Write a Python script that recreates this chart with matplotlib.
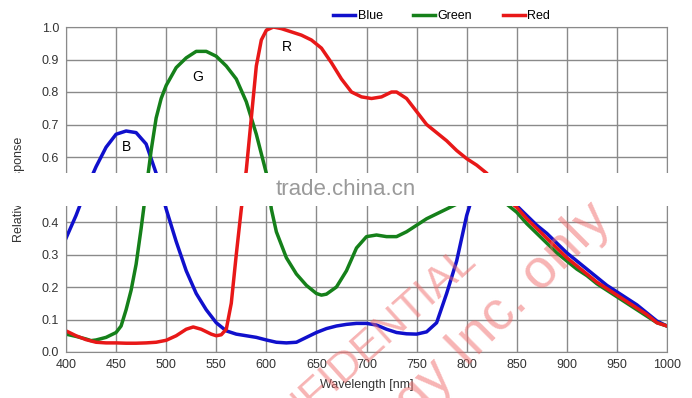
import matplotlib
matplotlib.use("Agg")
import matplotlib.pyplot as plt
from matplotlib.patches import Rectangle

plt.rcParams['font.family'] = ['Liberation Sans', 'DejaVu Sans']

# spectral response
blue_wl = [400, 410, 420, 430, 440, 450, 460, 470, 480, 490, 500, 510, 520, 530,
           540, 550, 560, 570, 580, 590, 600, 610, 620, 630, 640, 650, 660, 670,
           680, 690, 700, 710, 720, 730, 740, 750, 760, 770, 780, 790, 800, 810,
           820, 830, 840, 850, 860, 870, 880, 890, 900, 910, 920, 930, 940, 950,
           960, 970, 980, 990, 1000]
blue_val = [0.35, 0.42, 0.50, 0.57, 0.63, 0.67, 0.68, 0.675, 0.64, 0.55, 0.44, 0.34,
            0.25, 0.18, 0.13, 0.09, 0.065, 0.055, 0.05, 0.045, 0.037, 0.03, 0.028,
            0.03, 0.045, 0.06, 0.072, 0.08, 0.085, 0.088, 0.088, 0.083, 0.07, 0.06,
            0.056, 0.055, 0.062, 0.09, 0.18, 0.28, 0.42, 0.52, 0.53, 0.51, 0.48,
            0.45, 0.42, 0.39, 0.365, 0.335, 0.305, 0.28, 0.255, 0.23, 0.205, 0.185,
            0.165, 0.145, 0.12, 0.095, 0.08]

green_wl = [400, 410, 420, 425, 430, 440, 450, 455, 460, 465, 470, 475, 480, 485,
            490, 495, 500, 510, 520, 530, 540, 550, 560, 570, 580, 590, 600, 605,
            610, 620, 630, 640, 650, 655, 660, 670, 680, 690, 700, 710, 720, 730,
            740, 750, 760, 770, 780, 790, 800, 810, 820, 830, 840, 850, 860, 870,
            880, 890, 900, 910, 920, 930, 940, 950, 960, 970, 980, 990, 1000]
green_val = [0.055, 0.048, 0.04, 0.035, 0.037, 0.045, 0.06, 0.08, 0.13, 0.19, 0.27,
             0.38, 0.50, 0.62, 0.72, 0.78, 0.82, 0.875, 0.905, 0.925, 0.925, 0.91,
             0.88, 0.84, 0.77, 0.67, 0.55, 0.44, 0.37, 0.29, 0.24, 0.205, 0.18,
             0.175, 0.178, 0.2, 0.25, 0.32, 0.355, 0.36, 0.355, 0.355, 0.37, 0.39,
             0.41, 0.425, 0.44, 0.455, 0.46, 0.47, 0.47, 0.465, 0.455, 0.43, 0.395,
             0.365, 0.335, 0.305, 0.28, 0.255, 0.235, 0.21, 0.19, 0.17, 0.15, 0.13,
             0.11, 0.09, 0.08]

red_wl = [400, 410, 420, 430, 440, 450, 460, 470, 480, 490, 500, 510, 520, 527,
          535, 545, 550, 555, 560, 565, 570, 575, 580, 585, 590, 595, 600, 607,
          615, 625, 635, 645, 655, 665, 675, 685, 695, 705, 715, 725, 730, 740,
          750, 760, 770, 780, 790, 800, 810, 820, 830, 840, 850, 860, 870, 880,
          890, 900, 910, 920, 930, 940, 950, 960, 970, 980, 990, 1000]
red_val = [0.065, 0.05, 0.038, 0.03, 0.028, 0.028, 0.027, 0.027, 0.028, 0.03, 0.036,
           0.05, 0.07, 0.077, 0.07, 0.055, 0.05, 0.053, 0.07, 0.15, 0.30, 0.44,
           0.56, 0.72, 0.88, 0.96, 0.99, 1.0, 0.995, 0.985, 0.975, 0.96, 0.935,
           0.89, 0.84, 0.80, 0.785, 0.78, 0.785, 0.80, 0.80, 0.78, 0.74, 0.70,
           0.675, 0.65, 0.62, 0.595, 0.575, 0.55, 0.51, 0.47, 0.445, 0.41, 0.38,
           0.35, 0.32, 0.29, 0.265, 0.24, 0.215, 0.195, 0.175, 0.155, 0.135,
           0.115, 0.09, 0.08]

x_ticks = list(range(400, 1001, 50))
y_ticks = [0.0, 0.1, 0.2, 0.3, 0.4, 0.5, 0.6, 0.7, 0.8, 0.9, 1.0]

W, H = 692, 398
fig = plt.figure(figsize=(W / 100, H / 100), dpi=100)
ax = fig.add_axes([66 / W, 1 - 352 / H, (667 - 66) / W, (352 - 27) / H])

ax.plot(blue_wl, blue_val, color='#1010cc', lw=2.5, label='Blue')
ax.plot(green_wl, green_val, color='#15801a', lw=2.5, label='Green')
ax.plot(red_wl, red_val, color='#e81818', lw=2.5, label='Red')

ax.set_xlim(400, 1000)
ax.set_ylim(0, 1.0)
ax.set_xticks(x_ticks)
ax.set_yticks(y_ticks)
ax.set_yticklabels([f"{v:.1f}" for v in y_ticks])
ax.grid(True, color='#8a8a8a', lw=1)
ax.set_axisbelow(True)
for s in ax.spines.values():
    s.set_color('#8a8a8a')
ax.tick_params(length=0, labelsize=9, colors='#333333', pad=5)
ax.set_xlabel('Wavelength [nm]', fontsize=9, color='#333333', labelpad=6)
ax.set_ylabel('Relative Response', fontsize=9, color='#333333', labelpad=12)

ax.text(460, 0.63, 'B', fontsize=10, ha='center', va='center')
ax.text(531, 0.845, 'G', fontsize=10, ha='center', va='center')
ax.text(621, 0.937, 'R', fontsize=10, ha='center', va='center')

ax.legend(loc='lower center', bbox_to_anchor=(0.625, 1.0), ncol=3, frameon=False,
          fontsize=9, handlelength=1.8, handletextpad=0.2, columnspacing=2.4,
          borderaxespad=0)

# watermark band and marks
fig.add_artist(Rectangle((0, 1 - 206 / H), 1, 33 / H, transform=fig.transFigure,
                         facecolor='white', edgecolor='none', zorder=5))
fig.text(346 / W, 1 - 190 / H, 'trade.china.cn', fontsize=16, color='#9a9a9a',
         ha='center', va='center', zorder=6)
fig.text(478 / W, 1 - 262 / H, 'CONFIDENTIAL', fontsize=31, color='#f06a6a',
         alpha=0.5, rotation=42, rotation_mode='anchor', ha='right',
         va='baseline', zorder=6)
fig.text(612 / W, 1 - 222 / H, 'Technology Inc. only', fontsize=40, color='#f06a6a',
         alpha=0.5, rotation=45, rotation_mode='anchor', ha='right',
         va='baseline', zorder=6)

fig.savefig('out.png', dpi=100)
